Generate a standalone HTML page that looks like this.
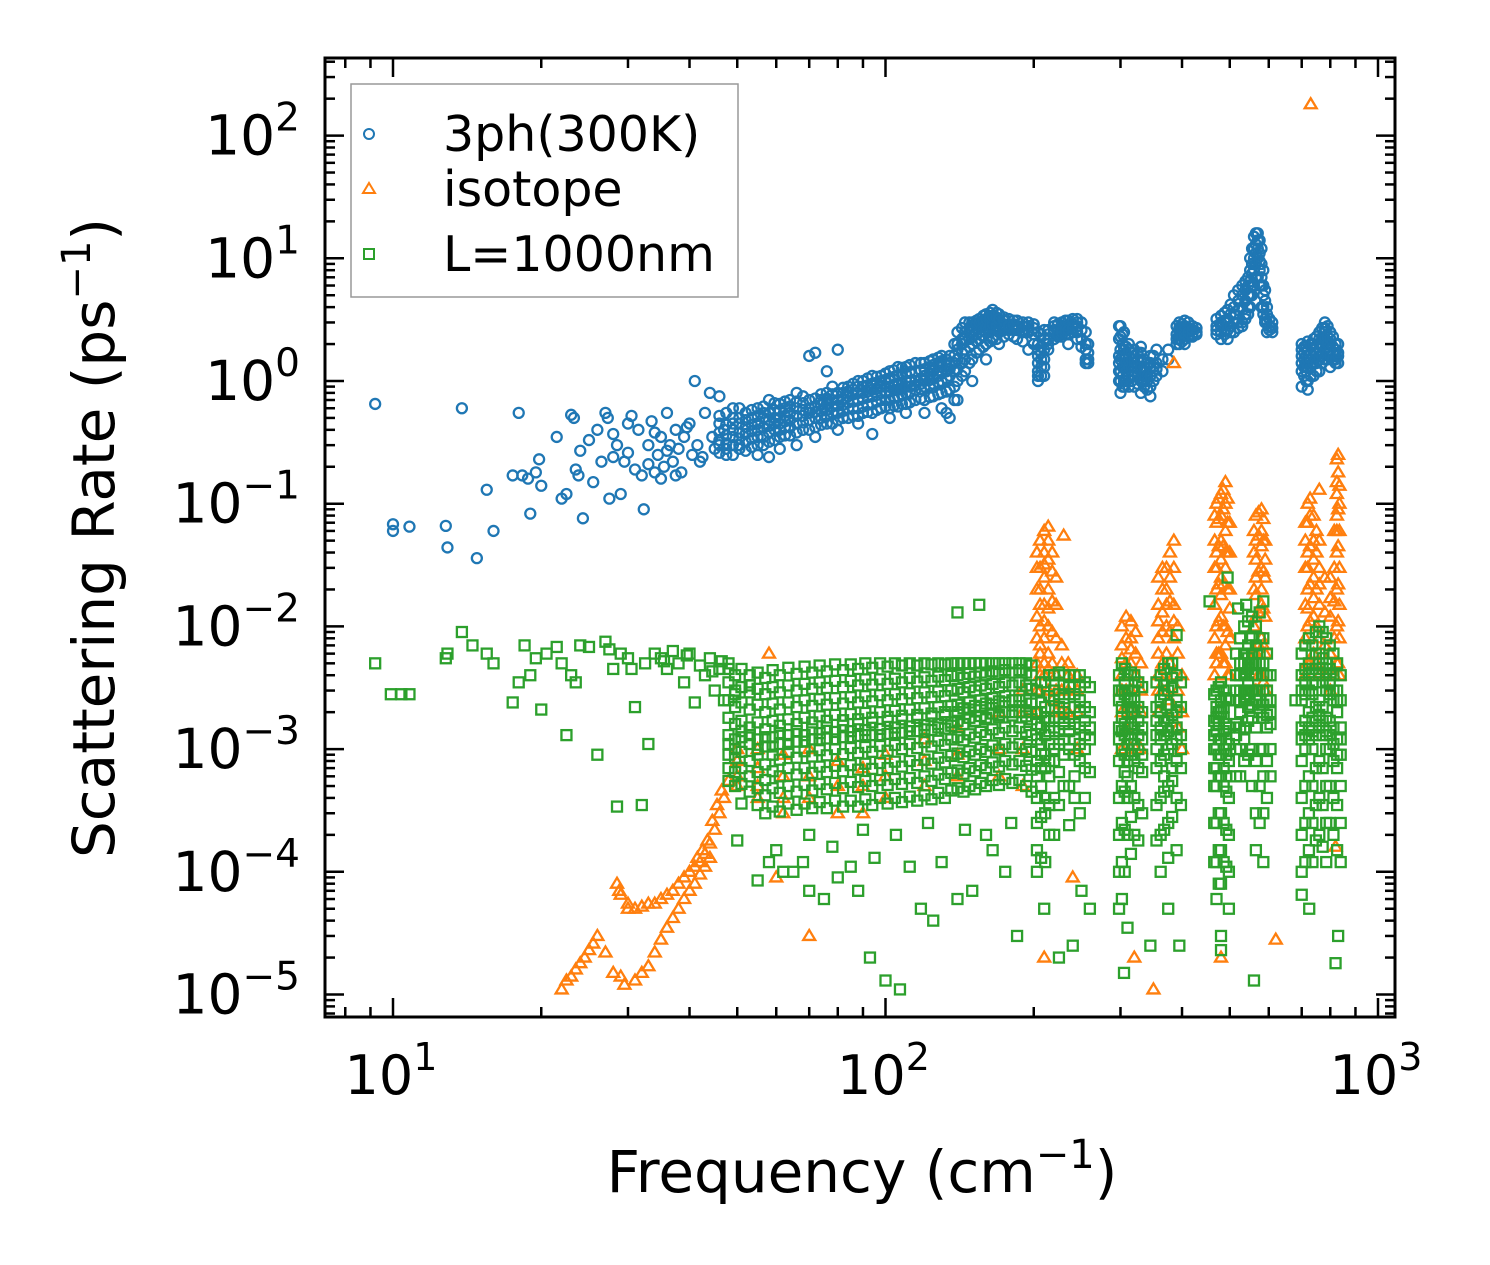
<!DOCTYPE html>
<html><head><meta charset="utf-8">
<style>
html,body{margin:0;padding:0;background:#fff;}
svg{display:block;font-family:"DejaVu Sans","Liberation Sans",sans-serif;}
</style></head>
<body>
<svg id="chart" width="1490" height="1265" viewBox="0 0 1490 1265" xmlns="http://www.w3.org/2000/svg">
<rect x="0" y="0" width="1490" height="1265" fill="#fff"/>
<g id="marks"></g>
<g id="axes"></g>
<text x="862" y="1192" text-anchor="middle" font-size="58">Frequency (cm<tspan dy="-24" font-size="40">−1</tspan><tspan dy="24">)</tspan></text>
<text transform="translate(114,538) rotate(-90)" text-anchor="middle" font-size="58">Scattering Rate (ps<tspan dy="-24" font-size="40">−1</tspan><tspan dy="24">)</tspan></text>
<g>
<rect x="351" y="84" width="387" height="213" fill="#fff" fill-opacity="0.85" stroke="#999" stroke-width="1.5"/>
<g>
<circle cx="369" cy="134" r="5" fill="none" stroke="#1f77b4" stroke-width="2"/>
<text x="443" y="151" font-size="49">3ph(300K)</text></g>
<g>
<polygon points="369,183 375,193 363,193" fill="none" stroke="#ff7f0e" stroke-width="2"/>
<text x="443" y="206" font-size="49">isotope</text></g>
<g>
<rect x="364" y="249" width="10" height="10" fill="none" stroke="#2ca02c" stroke-width="2"/>
<text x="443" y="271" font-size="49">L=1000nm</text></g>
</g>
</svg>
<script>
// ---- data (frequency cm^-1, scattering rate ps^-1) ----
const xTickValues = [10, 100, 1000];
const xTickExps = ["1", "2", "3"];
const yTickValues = [1e2, 1e1, 1e0, 1e-1, 1e-2, 1e-3, 1e-4, 1e-5];
const yTickExps = ["2", "1", "0", "\u22121", "\u22122", "\u22123", "\u22124", "\u22125"];
const seriesNames = ["3ph(300K)", "isotope", "L=1000nm"];

const blueSparse = [[9.2,0.65],[10,0.06],[10,0.068],[10.8,0.065],[12.8,0.066],[12.9,0.044],[13.8,0.6],[14.8,0.036],[15.5,0.13],[16,0.06],[17.5,0.17],[18,0.55],[18.3,0.17],[18.8,0.16],[19,0.083],[19.5,0.18],[19.8,0.23],[20,0.14],[21.5,0.35],[22,0.11],[22.5,0.12],[23,0.53],[23.3,0.5],[23.5,0.19],[23.8,0.17],[24,0.27],[24.3,0.076],[25,0.33],[25.5,0.15],[26,0.4],[26.5,0.22],[27,0.55],[27.3,0.5],[27.5,0.11],[28,0.37],[28.5,0.3],[29,0.12],[29.5,0.22],[30,0.45],[30.5,0.52],[31,0.19],[31.5,0.4],[32,0.17],[32.3,0.09],[33,0.3],[33.5,0.47],[34,0.18],[34.5,0.25],[35,0.35],[35.5,0.2],[36,0.55],[36.5,0.3],[37,0.22],[37.5,0.4],[38,0.28],[38.5,0.18],[39,0.35],[40,0.45],[40.5,0.25],[41,1.0],[41.5,0.3],[42,0.22],[43,0.55],[44,0.8],[44.5,0.35],[45,0.28],[46,0.75],[47,0.4],[35,0.16],[37.5,0.17],[42.5,0.24],[30,0.26],[28,0.24],[33,0.21],[39.5,0.42],[36,0.27],[34,0.38]];
const blueDense = [
[46,[0.3,0.38,0.45,0.26,0.33,0.52]],[47.5,[0.28,0.36,0.44,0.55,0.31,0.25]],[49,[0.3,0.4,0.5,0.25,0.35,0.45,0.6]],[50.5,[0.3,0.45,0.6,0.28,0.38,0.5,0.34]],[52,[0.32,0.42,0.55,0.27,0.37,0.48]],[53.5,[0.34,0.44,0.58,0.29,0.39,0.5]],[55,[0.35,0.45,0.6,0.3,0.25,0.4,0.52]],[56.5,[0.35,0.5,0.62,0.3,0.42,0.55]],[58,[0.38,0.48,0.7,0.32,0.24,0.55,0.43]],[59.5,[0.4,0.5,0.66,0.33,0.45,0.58]],[61,[0.4,0.5,0.65,0.35,0.28,0.45,0.57]],[62.5,[0.42,0.52,0.68,0.36,0.47,0.6]],[64,[0.42,0.55,0.7,0.36,0.48,0.62]],[66,[0.45,0.6,0.8,0.38,0.3,0.52,0.68]],[68,[0.46,0.58,0.75,0.4,0.52,0.66]],[70,[0.48,0.6,1.6,0.4,0.55,0.7]],[72,[0.5,0.62,1.7,0.42,0.35,0.56,0.72]],[74,[0.5,0.64,0.78,0.44,0.57,0.7]],[76,[0.52,0.65,0.8,0.45,1.2,0.58,0.72]],[78,[0.55,0.7,0.9,0.45,0.62,0.78]],[80,[0.55,0.7,1.8,0.48,0.4,0.63,0.8]],[82,[0.57,0.72,0.88,0.5,0.64,0.8]],[84,[0.6,0.75,0.9,0.5,0.67,0.82]],[86,[0.6,0.78,0.95,0.52,0.68,0.85]],[88,[0.6,0.8,1.0,0.52,0.45,0.7,0.9]],[90,[0.62,0.8,1.0,0.55,0.72,0.9]],[92,[0.64,0.82,1.05,0.56,0.74,0.92]],[94,[0.65,0.85,1.1,0.55,0.37,0.75,0.95]],[96,[0.68,0.87,1.08,0.58,0.77,0.97]],[98,[0.7,0.9,1.1,0.6,0.8,1.0]],[100,[0.7,0.9,1.15,0.62,0.8,1.02]],[102,[0.7,0.9,1.2,0.6,0.5,0.82,1.05]],[104,[0.73,0.93,1.22,0.63,0.84,1.08]],[106,[0.75,0.95,1.3,0.62,0.85,1.1]],[108,[0.77,0.97,1.28,0.65,0.87,1.12]],[110,[0.8,1.0,1.3,0.65,0.55,0.9,1.15]],[112,[0.8,1.0,1.35,0.67,0.9,1.18]],[115,[0.85,1.0,1.4,0.7,0.92,1.2]],[118,[0.86,1.05,1.4,0.72,0.95,1.22]],[120,[0.9,1.1,1.4,0.7,0.55,1.0,1.25]],[123,[0.92,1.15,1.45,0.74,1.02,1.3]],[125,[0.95,1.2,1.5,0.75,1.05,1.35]],[128,[0.97,1.22,1.55,0.78,1.1,1.4]],[130,[1.0,1.3,0.8,0.6,1.6,1.15,1.45]],[133,[1.05,1.35,0.82,0.55,1.2,1.5]],[135,[1.1,1.4,0.85,0.5,1.25,1.6]],[138,[1.2,1.6,2.0,0.9,0.7,1.4]],[140,[1.5,2.0,2.5,1.0,0.7,1.25,1.8]],[143,[1.7,2.2,2.7,1.1,1.4,2.0]],[145,[1.8,2.5,3.0,1.2,2.2,1.5]],[148,[1.9,2.5,3.0,1.4,2.2,2.7]],[150,[2.0,2.6,3.0,1.5,1.0,2.3,2.8]],[153,[2.1,2.7,3.1,1.7,2.4,2.9]],[155,[2.2,2.8,3.2,1.8,2.5,3.0]],[158,[2.3,2.9,3.4,1.9,2.6,3.1]],[160,[2.5,3.0,3.5,2.0,1.5,2.7,3.2]],[163,[2.5,3.1,3.6,2.1,2.8,3.3]],[165,[2.6,3.2,3.8,2.2,2.9,3.4]],[168,[2.6,3.1,3.6,2.2,2.8,3.3]],[170,[2.7,3.0,3.5,2.0,2.5,3.2]],[174,[2.6,2.9,3.3,2.3,2.7,3.1]],[178,[2.6,2.9,3.2,2.4,2.8]],[182,[2.6,2.8,3.1,2.3,2.9]],[185,[2.6,2.8,3.1,2.2,2.7]],[190,[2.5,2.8,3.0,2.1,2.6]],[195,[2.5,2.8,3.0,1.8,2.6]],[200,[2.4,2.7,2.9,2.0]],
[204,[1.2,1.6,2.0,2.5,1.0,1.4,1.8,1.1]],[207,[1.1,1.5,1.9,2.4,1.3,1.7]],[210,[1.3,1.8,2.6,1.1,1.5,2.2]],[214,[1.8,2.2,2.6,2.0,2.4]],[220,[2.2,2.6,3.0,2.5,2.8]],[224,[2.3,2.6,2.9,2.4]],[228,[2.3,2.7,3.0,2.5]],[232,[2.4,2.8,3.1,2.6]],[235,[2.4,2.8,3.1,2.0,2.6]],[240,[2.5,2.9,3.2,2.7]],[245,[2.5,3.0,3.2,2.2,2.8]],[250,[2.2,2.6,3.0,1.9]],[255,[1.5,2.0,2.5,1.4,1.8]],[258,[1.4,1.7,2.0,1.5]],
[298,[1.2,1.6,2.2,2.8,1.0,1.4]],[300,[1.2,1.8,2.8,1.0,0.8,1.5,2.3]],[303,[1.1,1.6,2.4,0.9,1.3,2.0]],[305,[1.0,1.5,2.5,0.9,1.3,1.8]],[308,[1.0,1.4,1.9,1.2,1.6]],[312,[1.1,1.6,2.0,1.3,0.9,1.8]],[316,[1.0,1.3,1.7,1.5,1.1]],[320,[0.9,1.4,1.8,1.1,1.2,1.6]],[325,[0.95,1.3,1.7,1.1,1.5]],[330,[1.0,1.5,1.9,1.2,0.8,1.3,1.7]],[335,[0.9,1.2,1.5,1.0,1.3]],[340,[0.85,1.1,1.4,1.0]],[345,[0.9,1.3,1.6,0.75,1.1,1.4]],[350,[1.0,1.3,1.6,1.2]],[355,[1.1,1.4,1.8,1.25]],[365,[1.2,1.5]],[375,[1.5,1.8]],
[390,[2.0,2.4,2.8,2.2]],[395,[2.0,2.5,3.0,2.2,2.7,2.35]],[400,[2.1,2.5,2.9,2.3,2.7]],[405,[2.2,2.6,3.1,2.0,2.4,2.8]],[412,[2.3,2.7,3.0,2.5]],[420,[2.4,2.8,2.3,2.6]],[428,[2.5,2.7,2.4]],
[470,[2.4,2.8,3.2,2.6]],[480,[2.5,3.0,3.4,2.8,2.2]],[488,[2.6,3.1,3.6,2.4]],[495,[2.6,3.2,3.8,2.2,3.0]],[502,[2.8,3.5,4.2,2.5]],[510,[3.0,4.0,5.0,2.5,3.5]],[520,[3.0,4.5,5.5,2.7,3.8]],[530,[3.0,5.0,6.0,2.8,4.0]],[538,[3.5,5.5,6.5,3.2,4.5]],[545,[4,6,7,3.5,5]],[550,[5,8,10,4,6.5]],[555,[6,9,12,5,7.5]],[560,[8,12,15,6,10]],[565,[9,13,16,7,11]],[570,[10,14,16,7,12]],[575,[8,11,14,6,9.5]],[580,[6,9,12,4,7]],[585,[4,6,8,3.5,5]],[590,[3,4.5,5.5,3.2]],[595,[3,4,2.5,3.5]],[602,[2.8,3.2,2.6]],[610,[2.5,3.0,2.7]],
[700,[1.2,1.6,2.0,0.9,1.4,1.8]],[708,[1.1,1.5,1.9,1.3,1.7]],[715,[1.2,1.6,1.0,1.4,1.9]],[720,[1.3,1.8,1.0,0.85,1.5,2.1]],[730,[1.3,1.7,2.0,1.1,1.5]],[740,[1.4,1.8,2.2,1.1,1.6,2.0]],[750,[1.4,1.9,2.3,1.2,1.7]],[760,[1.5,2.0,2.5,1.2,1.7,2.2]],[770,[1.6,2.2,2.7,1.4,1.9]],[780,[1.8,2.5,3.0,1.5,2.2,2.7]],[790,[1.7,2.3,2.8,1.5,2.0]],[800,[1.6,2.0,2.5,1.3,1.8,2.2]],[810,[1.5,1.9,2.3,1.7]],[820,[1.4,1.8,1.6,2.0,1.5]],[830,[1.4,1.7,2.0,1.6]]];

const orangeSparse = [[22,1.1e-5],[22.5,1.3e-5],[23,1.4e-5],[23.5,1.6e-5],[24,1.8e-5],[24.5,2e-5],[25,2.3e-5],[25.5,2.6e-5],[26,3e-5],[27,2.2e-5],[28,1.5e-5],[29,1.4e-5],[28.5,8e-5],[28.8,7e-5],[29,6.5e-5],[30,5.5e-5],[31,5e-5],[32,5.2e-5],[33,5.5e-5],[34,5.5e-5],[35,6e-5],[36,6.5e-5],[37,7e-5],[38,8e-5],[39,9e-5],[40,1e-4],[41,1.1e-4],[42,1.2e-4],[43,1.4e-4],[44,1.7e-4],[45,2.2e-4],[46,3e-4],[47,4e-4],[48,5.5e-4],[31,1.3e-5],[32,1.5e-5],[33,1.7e-5],[34,2.2e-5],[35,2.8e-5],[36,3.5e-5],[37,4.2e-5],[38,5e-5],[39,6e-5],[40,7e-5],[41,8e-5],[42,9.5e-5],[43,1.1e-4],[44,1.3e-4],[30,5e-5],[29.5,1.2e-5],[41.5,1.3e-4],[42.5,1.5e-4],[43.5,1.8e-4],[44.5,2.6e-4],[45.5,3.5e-4],[46.5,4.6e-4],[730,180],[385,1.4],[230,0.055],[760,0.13],[70,3e-5],[60,9e-5],[210,2e-5],[320,2e-5],[350,1.1e-5],[480,2e-5],[620,2.8e-5],[240,9e-5],[58,0.006],[820,1.6e-4]];
const orangeDense = [[50,[6e-4,8e-4,1e-3,5e-4]],[55,[5e-4,7e-4,1e-3,4e-4]],[62,[4e-4,6e-4,9e-4,3e-4]],[70,[4e-4,6e-4,1e-3]],[80,[3e-4,5e-4,8e-4]],[90,[3e-4,5e-4,7e-4]],[100,[4e-4,6e-4,9e-4]],[120,[5e-4,8e-4,1.2e-3]],[140,[6e-4,9e-4,1.5e-3]],[170,[6e-4,1e-3,2e-3]],[190,[5e-4,1e-3,2e-3,3e-3]],
[203,[2e-3,3e-3,5e-3,8e-3,1.2e-2,2e-2,3e-2,4e-2]],[206,[3e-3,6e-3,1e-2,2e-2,3e-2,5e-2,4e-3,1.5e-2,7e-3]],[210,[4e-3,8e-3,1.5e-2,2.5e-2,4e-2,6e-2,5e-3,1.1e-2,3.2e-2]],[214,[3e-3,6e-3,1e-2,2e-2,3.5e-2,5e-2,6.5e-2,4.5e-3,1.4e-2]],[218,[2.5e-3,5e-3,9e-3,1.6e-2,2.8e-2,4e-2]],[222,[2e-3,4e-3,8e-3,1.5e-2,2.5e-2,3e-3]],[228,[2e-3,3e-3,5e-3,7e-3]],[235,[2e-3,3e-3,4e-3,5e-3]],[245,[1e-3,2e-3,3e-3,4e-3]],
[302,[1e-3,2e-3,4e-3,7e-3,1e-2,3e-3,5.5e-3]],[308,[1.5e-3,3e-3,5e-3,8e-3,1.2e-2]],[315,[1e-3,3e-3,5e-3,8e-3,1.1e-2,2e-3,6.5e-3]],[322,[1e-3,2e-3,4e-3,6e-3,9e-3]],[330,[1e-3,2e-3,3e-3,5e-3]],
[358,[2e-3,4e-3,8e-3,1.5e-2,2.5e-2,3e-3,6e-3,1.1e-2]],[365,[3e-3,5e-3,9e-3,1.3e-2,2e-2,3e-2]],[372,[3e-3,6e-3,1e-2,2e-2,3e-2,1.5e-2,4.5e-3]],[378,[2.5e-3,5e-3,9e-3,1.6e-2,2.5e-2,4e-2]],[385,[2e-3,4e-3,8e-3,1.5e-2,3e-2,5e-2,1.1e-2]],[392,[1.5e-3,3e-3,6e-3,1e-2]],[400,[1e-3,2e-3,4e-3]],
[466,[4e-3,8e-3,1.5e-2,3e-2,5e-2,8e-2]],[470,[5e-3,1e-2,2e-2,4e-2,7e-2,1e-1,3e-2,6e-3]],[475,[6e-3,1.1e-2,2.2e-2,4.5e-2,7.5e-2,1.1e-1]],[480,[6e-3,1.2e-2,2.5e-2,5e-2,8e-2,1.2e-1,3.5e-2,1.8e-2]],[485,[5e-3,1e-2,2.2e-2,4.5e-2,9e-2,1.3e-1]],[490,[5e-3,1e-2,3e-2,6e-2,1e-1,1.5e-1,4e-2,7e-3]],[495,[4e-3,9e-3,2e-2,4e-2,7e-2,1.1e-1]],[500,[4e-3,8e-3,2e-2,4e-2,7e-2,1.4e-2]],
[560,[3e-3,6e-3,1e-2,2e-2,4e-2,6e-2]],[565,[3e-3,6e-3,1.2e-2,2.5e-2,5e-2,8e-2,1.8e-2,3.5e-2]],[572,[4e-3,7e-3,1.3e-2,2.8e-2,5.5e-2,8.5e-2]],[580,[4e-3,8e-3,1.5e-2,3e-2,6e-2,9e-2,2e-2,4.5e-2]],[585,[3.5e-3,7e-3,1.4e-2,2.8e-2,5e-2,7.5e-2]],[590,[3e-3,6e-3,1.2e-2,2.5e-2,5e-2,3.5e-2]],
[712,[4e-3,8e-3,1.5e-2,3e-2,5e-2,7e-2]],[720,[5e-3,1e-2,2e-2,4e-2,7e-2,1e-1,3e-2,1.4e-2]],[728,[5e-3,1.1e-2,2.2e-2,4.5e-2,8e-2,1.1e-1]],[740,[6e-3,1.2e-2,2.5e-2,5e-2,8e-2,3.5e-2,1.7e-2]],[750,[5e-3,1e-2,2e-2,4e-2,6e-2]],[760,[4e-3,8e-3,1.5e-2,3e-2,5e-2,2.2e-2]],[780,[4e-3,7e-3,1.3e-2,2.5e-2]],[800,[3e-3,6e-3,1.2e-2,2.5e-2,1.7e-2]],[815,[4e-3,8e-3,1.6e-2,3e-2,6e-2]],[825,[5e-3,1e-2,2e-2,4e-2,8e-2,1.5e-1,2.3e-1,1.2e-1,6e-2]],[830,[5e-3,1.1e-2,2.2e-2,4.5e-2,9e-2,1.8e-1,2.5e-1]],[835,[4e-3,8e-3,1.5e-2,3e-2,6e-2,1e-1,1.4e-1]]];

const greenSparse = [[9.2,0.005],[9.9,0.0028],[10.4,0.0028],[10.8,0.0028],[12.8,0.0055],[12.9,0.006],[13.8,0.009],[14.5,0.007],[15.5,0.006],[16,0.005],[17.5,0.0024],[18,0.0035],[18.5,0.007],[19,0.004],[19.5,0.0055],[20,0.0021],[20.5,0.006],[21.5,0.0068],[22,0.005],[22.5,0.0013],[23,0.004],[23.5,0.0035],[24,0.007],[25,0.0068],[26,0.0009],[27,0.0075],[27.5,0.0065],[28,0.0045],[28.5,0.00034],[29,0.006],[30,0.0055],[31,0.0022],[32,0.00035],[32.5,0.005],[33,0.0011],[34,0.006],[35,0.0055],[36,0.0045],[37,0.0063],[38,0.005],[39,0.0035],[40,0.006],[41,0.0024],[42,0.0048],[43,0.004],[44,0.0055],[45,0.003],[46,0.0045],[47,0.0025],[30.5,0.0045],[35.5,0.0052],[39.5,0.0058],[44.5,0.0043],[46.5,0.0052],[50,0.00018],[55,8.5e-5],[58,0.00012],[62,0.0001],[65,0.0001],[70,7e-5],[75,6e-5],[80,9e-5],[88,7e-5],[93,2e-5],[100,1.3e-5],[107,1.1e-5],[118,5e-5],[125,4e-5],[140,6e-5],[150,7e-5],[185,3e-5],[210,5e-5],[225,2e-5],[240,2.5e-5],[250,7e-5],[260,5e-5],[305,1.5e-5],[310,3.5e-5],[345,2.5e-5],[375,5e-5],[395,2.5e-5],[480,2.3e-5],[560,1.3e-5],[680,0.0025],[700,6.5e-5],[725,5e-5],[820,1.8e-5],[830,3e-5],[140,0.013],[155,0.015],[390,0.0085],[520,0.014],[540,0.015],[585,0.016],[455,0.016],[495,0.025],[60,0.00015],[68,0.00012],[78,0.00016],[85,0.00011],[95,0.00013],[112,0.00011],[130,0.00012],[165,0.00015],[175,0.0001],[70,0.0002],[90,0.00022],[105,0.0002],[122,0.00025],[145,0.00022],[160,0.0002],[180,0.00025]];
const greenDense = [
[48,[5e-3,3.5e-3,2.5e-3,1.8e-3,1.3e-3,9e-4,7e-4,5.5e-4,4.5e-3,1.1e-3]],[49.5,[4e-3,3e-3,2.2e-3,1.6e-3,1.2e-3,8.5e-4,6.5e-4,5e-4,2.8e-3,1e-3]],[51,[4.5e-3,3.2e-3,2.4e-3,1.7e-3,1.25e-3,9.5e-4,7e-4,5.2e-4,3.6e-4,1.4e-3]],[53,[4e-3,2.9e-3,2.1e-3,1.5e-3,1.1e-3,8e-4,6e-4,4.5e-4,3.3e-3,1.3e-3]],[55,[4.2e-3,3.1e-3,2.3e-3,1.65e-3,1.2e-3,9e-4,6.5e-4,4.8e-4,3.5e-4,1e-3]],[57,[3.8e-3,2.8e-3,2e-3,1.45e-3,1.05e-3,7.5e-4,5.6e-4,4.2e-4,3e-4,1.25e-3]],[59,[4.4e-3,3.2e-3,2.35e-3,1.7e-3,1.25e-3,9e-4,6.6e-4,4.8e-4,3.4e-4,1.05e-3]],[61,[4e-3,2.9e-3,2.1e-3,1.55e-3,1.1e-3,8.2e-4,6e-4,4.4e-4,3.1e-4,1.35e-3]],[63.5,[4.6e-3,3.3e-3,2.4e-3,1.75e-3,1.3e-3,9.5e-4,7e-4,5e-4,3.6e-4,1.1e-3]],[66,[4.1e-3,3e-3,2.2e-3,1.6e-3,1.15e-3,8.5e-4,6.2e-4,4.5e-4,3.2e-4,1.4e-3]],[68.5,[4.7e-3,3.4e-3,2.5e-3,1.8e-3,1.3e-3,9.6e-4,7e-4,5.1e-4,3.6e-4,1.15e-3]],[71,[4.2e-3,3.1e-3,2.25e-3,1.65e-3,1.2e-3,8.7e-4,6.4e-4,4.6e-4,3.3e-4,1.45e-3]],[73.5,[4.8e-3,3.5e-3,2.55e-3,1.85e-3,1.35e-3,9.8e-4,7.2e-4,5.2e-4,3.7e-4,1.2e-3]],[76,[4.3e-3,3.15e-3,2.3e-3,1.7e-3,1.22e-3,8.9e-4,6.5e-4,4.7e-4,3.3e-4,1.5e-3]],[79,[4.9e-3,3.6e-3,2.6e-3,1.9e-3,1.38e-3,1e-3,7.3e-4,5.3e-4,3.8e-4,1.2e-3]],[82,[4.4e-3,3.2e-3,2.35e-3,1.72e-3,1.25e-3,9.1e-4,6.6e-4,4.8e-4,3.4e-4,1.55e-3]],[85,[4.9e-3,3.6e-3,2.65e-3,1.93e-3,1.4e-3,1.02e-3,7.4e-4,5.4e-4,3.8e-4,1.25e-3]],[88,[4.5e-3,3.3e-3,2.4e-3,1.75e-3,1.28e-3,9.3e-4,6.8e-4,4.9e-4,3.4e-4,1.6e-3]],[91,[5e-3,3.7e-3,2.7e-3,1.97e-3,1.43e-3,1.04e-3,7.6e-4,5.5e-4,3.9e-4,1.3e-3]],[94,[4.6e-3,3.35e-3,2.45e-3,1.8e-3,1.3e-3,9.5e-4,6.9e-4,5e-4,3.5e-4,1.65e-3]],[97.5,[5e-3,3.7e-3,2.75e-3,2e-3,1.46e-3,1.06e-3,7.7e-4,5.6e-4,4e-4,1.3e-3]],[101,[4.7e-3,3.4e-3,2.5e-3,1.83e-3,1.33e-3,9.7e-4,7e-4,5.1e-4,3.6e-4,1.7e-3]],[104.5,[5e-3,3.75e-3,2.8e-3,2.05e-3,1.5e-3,1.08e-3,7.9e-4,5.7e-4,4e-4,1.35e-3]],[108,[4.8e-3,3.5e-3,2.55e-3,1.87e-3,1.36e-3,1e-3,7.2e-4,5.2e-4,3.7e-4,1.75e-3]],[112,[5e-3,3.8e-3,2.85e-3,2.1e-3,1.53e-3,1.1e-3,8e-4,5.8e-4,4.1e-4,1.4e-3]],[116,[4.8e-3,3.55e-3,2.6e-3,1.9e-3,1.4e-3,1.02e-3,7.4e-4,5.3e-4,3.8e-4,1.8e-3]],[120,[5e-3,3.85e-3,2.9e-3,2.15e-3,1.57e-3,1.14e-3,8.2e-4,6e-4,4.2e-4,1.45e-3]],[124,[4.9e-3,3.6e-3,2.65e-3,1.95e-3,1.43e-3,1.05e-3,7.6e-4,5.5e-4,3.9e-4,1.85e-3]],[128,[5e-3,3.9e-3,2.95e-3,2.2e-3,1.6e-3,1.17e-3,8.5e-4,6.2e-4,4.4e-4,1.5e-3]],[132,[4.9e-3,3.65e-3,2.7e-3,2e-3,1.47e-3,1.08e-3,7.8e-4,5.7e-4,4e-4,1.9e-3]],[136,[5e-3,3.95e-3,3e-3,2.25e-3,1.65e-3,1.2e-3,8.8e-4,6.4e-4,4.6e-4,1.55e-3]],[140,[5e-3,4e-3,3.1e-3,2.3e-3,1.7e-3,1.25e-3,9.2e-4,6.7e-4,4.8e-4,2e-3]],[144,[5e-3,3.8e-3,2.9e-3,2.15e-3,1.6e-3,1.18e-3,8.6e-4,6.3e-4,4.5e-4,1.6e-3]],[148,[5e-3,4.1e-3,3.2e-3,2.4e-3,1.8e-3,1.32e-3,9.6e-4,7e-4,5e-4,2.1e-3]],[152,[5e-3,3.9e-3,3e-3,2.25e-3,1.68e-3,1.24e-3,9e-4,6.6e-4,4.7e-4,1.7e-3]],[156,[5e-3,4.2e-3,3.3e-3,2.5e-3,1.86e-3,1.38e-3,1e-3,7.4e-4,5.3e-4,2.2e-3]],[160,[5e-3,4e-3,3.1e-3,2.35e-3,1.75e-3,1.3e-3,9.5e-4,7e-4,5e-4,1.8e-3]],[165,[5e-3,4.3e-3,3.4e-3,2.6e-3,1.95e-3,1.45e-3,1.07e-3,7.8e-4,5.6e-4,2.3e-3]],[170,[5e-3,4.1e-3,3.2e-3,2.45e-3,1.82e-3,1.35e-3,9.9e-4,7.2e-4,5.1e-4,1.9e-3]],[175,[5e-3,4.4e-3,3.5e-3,2.7e-3,2e-3,1.5e-3,1.1e-3,8e-4,5.7e-4,2.4e-3]],[181,[5e-3,4.2e-3,3.3e-3,2.5e-3,1.88e-3,1.4e-3,1.03e-3,7.5e-4,5.3e-4,2e-3]],[187,[5e-3,4.4e-3,3.5e-3,2.7e-3,2e-3,1.5e-3,1.1e-3,8e-4,5.6e-4,2.5e-3]],[193,[5e-3,4.2e-3,3.3e-3,2.5e-3,1.85e-3,1.38e-3,1e-3,7.3e-4,5e-4,2e-3]],[198,[4.8e-3,4e-3,3.1e-3,2.35e-3,1.75e-3,1.3e-3,9.5e-4,6.8e-4,4.5e-4]],
[203,[3e-3,2e-3,1.2e-3,6e-4,2.5e-4,1e-4,1.5e-4,8e-4,4e-4,1.6e-3]],[207,[3.5e-3,2.4e-3,1.5e-3,9e-4,5e-4,2.8e-4,1.3e-4,2e-3,7e-4,1.1e-3]],[211,[3.5e-3,2.2e-3,1.3e-3,7e-4,3e-4,1.2e-4,4e-4,1.8e-3,9e-4]],[215,[4e-3,2.7e-3,1.7e-3,1.1e-3,6e-4,3.5e-4,2e-4,1.4e-3,8e-4]],[220,[4e-3,2.5e-3,1.5e-3,8e-4,4e-4,2e-4,1e-3,3e-3,1.8e-3]],[225,[4.2e-3,2.8e-3,1.8e-3,1.1e-3,6.5e-4,3.5e-4,1.4e-3,2.2e-3]],[230,[4e-3,2.6e-3,1.6e-3,9e-4,5e-4,2e-3,1.2e-3,3.3e-3]],[236,[4e-3,2.8e-3,1.8e-3,1e-3,5e-4,2.4e-4,1.4e-3,3.2e-3]],[242,[4e-3,2.8e-3,1.6e-3,9e-4,4e-4,1.2e-3,2.2e-3,6e-4]],[248,[4e-3,2.5e-3,1.5e-3,8e-4,3e-4,2e-3,1.1e-3,3.2e-3]],[254,[3.5e-3,2.2e-3,1.3e-3,7e-4,4e-4,1.7e-3,1e-3]],[260,[3.2e-3,2e-3,1.2e-3,6.5e-4,1.5e-3]],
[298,[4e-3,2.5e-3,1.5e-3,8e-4,4e-4,2e-4,1e-4,5e-5,1.2e-3,3e-3]],[302,[5e-3,3e-3,1.8e-3,1e-3,5e-4,2.5e-4,1.2e-4,6e-5,1.4e-3,2.2e-3]],[306,[4.5e-3,2.8e-3,1.6e-3,9e-4,4.5e-4,2.2e-4,1e-4,1.3e-3,3.5e-3,6.5e-4]],[310,[4e-3,2.5e-3,1.5e-3,8e-4,4e-4,2e-4,2e-3,1.1e-3,3e-3,6e-4]],[315,[4.2e-3,2.6e-3,1.6e-3,9e-4,5e-4,2.8e-4,1.4e-4,1.2e-3,2.2e-3]],[320,[4e-3,2.5e-3,1.5e-3,8e-4,4e-4,2e-4,2e-3,1.1e-3,3e-3]],[326,[3.5e-3,2.2e-3,1.3e-3,7e-4,3.5e-4,1.8e-4,1e-3,1.7e-3]],[332,[3.2e-3,2e-3,1.2e-3,6.5e-4,3e-4,1.5e-3,9e-4]],
[355,[3.5e-3,2.2e-3,1.3e-3,7e-4,3.5e-4,1.8e-4,1e-3,1.7e-3]],[362,[4e-3,2.5e-3,1.5e-3,8e-4,4e-4,2e-4,1e-4,1.2e-3,2e-3]],[368,[4.5e-3,2.8e-3,1.7e-3,9e-4,4.5e-4,2.2e-4,6e-4,1.3e-3,3.3e-3]],[375,[5e-3,3e-3,1.8e-3,1e-3,5e-4,2.5e-4,1.3e-4,1.4e-3,2.3e-3]],[382,[5e-3,3.2e-3,1.9e-3,1.1e-3,5.5e-4,2.8e-4,1.5e-3,3.8e-3,7e-4]],[390,[4e-3,2.5e-3,1.5e-3,8e-4,4e-4,1.5e-4,1.2e-3,2e-3]],[398,[3.5e-3,2.2e-3,1.3e-3,7e-4,3.5e-4,1e-3]],
[465,[2.8e-3,1.7e-3,1e-3,5e-4,2.5e-4,1.2e-4,7e-4,1.3e-3]],[470,[3e-3,1.8e-3,1e-3,5e-4,2.5e-4,1.2e-4,6e-5,1.4e-3,2.2e-3,7e-4]],[475,[3.2e-3,2e-3,1.2e-3,6e-4,3e-4,1.5e-4,8e-5,1.6e-3,9e-4]],[480,[3.5e-3,2e-3,1.2e-3,6e-4,3e-4,1.5e-4,8e-5,3e-5,2.5e-3,9e-4]],[486,[3e-3,1.8e-3,1e-3,5e-4,2.5e-4,1.2e-4,7e-4,1.4e-3,2.2e-3]],[492,[2.6e-3,1.6e-3,9e-4,4.5e-4,2.2e-4,1.1e-4,6e-4,1.2e-3]],[498,[2.5e-3,1.5e-3,8e-4,4e-4,2e-4,1e-4,5e-5,1.1e-3]],
[515,[6e-3,4e-3,2.5e-3,1.6e-3,1e-3,6e-4,3e-3,1.3e-3]],[525,[8e-3,5e-3,3e-3,2e-3,1e-3,6e-4,4e-3,1.5e-3,2.5e-3]],[535,[1e-2,6e-3,4e-3,2.5e-3,1.5e-3,8e-4,3e-3,5e-3,1.2e-3]],[545,[1.1e-2,7e-3,4.5e-3,2.8e-3,1.7e-3,9e-4,5.5e-3,3.5e-3,2.2e-3]],[555,[1.2e-2,8e-3,5e-3,3e-3,1.8e-3,1e-3,5e-4,6e-3,2.3e-3,4e-3]],[565,[1e-2,7e-3,4e-3,2.5e-3,1.5e-3,8e-4,3e-4,1.5e-4,5e-3,3e-3]],[575,[1.3e-2,8e-3,5e-3,3e-3,2e-3,1e-3,5e-4,2.5e-4,6e-3,2.5e-3]],[585,[8e-3,5e-3,3e-3,1.8e-3,1e-3,6e-4,3e-4,1.2e-4,4e-3,2.3e-3]],[595,[6e-3,4e-3,2.5e-3,1.5e-3,8e-4,4e-4,3e-3,1.9e-3]],[605,[4e-3,2.5e-3,1.6e-3,1e-3,6e-4,2e-3]],
[700,[6e-3,4e-3,2.5e-3,1.5e-3,8e-4,4e-4,2e-4,1e-4,3e-3,1.2e-3]],[712,[7e-3,4.5e-3,2.8e-3,1.7e-3,1e-3,5e-4,2.5e-4,1.2e-4,3.5e-3,1.3e-3]],[724,[8e-3,5e-3,3e-3,2e-3,1.2e-3,6e-4,3e-4,1.5e-4,4e-3,1.5e-3]],[736,[7e-3,4.5e-3,2.8e-3,1.8e-3,1e-3,5e-4,2.5e-4,1.2e-4,3.5e-3,1.4e-3]],[748,[9e-3,6e-3,3.5e-3,2.2e-3,1.3e-3,7e-4,3.5e-4,1.8e-4,4.5e-3,1.7e-3]],[760,[1e-2,6e-3,4e-3,2.5e-3,1.5e-3,8e-4,4e-4,2e-4,5e-3,1.9e-3]],[772,[9e-3,5.5e-3,3.5e-3,2.2e-3,1.3e-3,7e-4,3.5e-4,1.6e-4,4.5e-3,1.7e-3]],[785,[8e-3,5e-3,3e-3,1.8e-3,1e-3,5e-4,2.5e-4,1.2e-4,4e-3,1.4e-3]],[798,[7e-3,4.5e-3,2.8e-3,1.7e-3,1e-3,5e-4,2.5e-4,3.5e-3,1.3e-3]],[812,[6e-3,4e-3,2.5e-3,1.5e-3,8e-4,4e-4,2e-4,3e-3,1.1e-3]],[826,[5e-3,3e-3,2e-3,1.2e-3,7e-4,3.5e-4,1.5e-4,2.5e-3,9e-4]],[840,[4e-3,2.5e-3,1.5e-3,9e-4,5e-4,2.5e-4,1.2e-4,1.2e-3]]];

// ---- scales ----
const PL = 325, PR = 1395, PT = 58, PB = 1017;
const DEC_X = 492.5, DEC_Y = 122.7;
function xs(f){ return 393 + (Math.log10(f) - 1) * DEC_X; }
function ys(r){ return 381 - Math.log10(r) * DEC_Y; }

const NS = "http://www.w3.org/2000/svg";
const BLUE = "#1f77b4", ORANGE = "#ff7f0e", GREEN = "#2ca02c";
function mk(tag, attrs, parent){
  const e = document.createElementNS(NS, tag);
  for (const k in attrs) e.setAttribute(k, attrs[k]);
  parent.appendChild(e);
  return e;
}
function flatten(sparse, dense){
  const out = sparse.slice();
  dense.forEach(function(c){ c[1].forEach(function(v){ out.push([c[0], v]); }); });
  return out;
}
const marks = document.getElementById("marks");
function circle(g, x, y){
  const e = mk("circle", {cx:x, cy:y, r:5, fill:"none", stroke:BLUE, "stroke-width":2.3}, g);
  
  
}
function tri(g, x, y){
  const e = mk("polygon", {points:(x)+","+(y-6)+" "+(x+6)+","+(y+4)+" "+(x-6)+","+(y+4), fill:"none", stroke:ORANGE, "stroke-width":2.3}, g);
  
  
}
function sq(g, x, y){
  const e = mk("rect", {x:x-5, y:y-5, width:10, height:10, fill:"none", stroke:GREEN, "stroke-width":2.3}, g);
  
  
}
const gB = mk("g", {}, marks);


flatten(blueSparse, blueDense).forEach(function(p){ circle(gB, xs(p[0]), ys(p[1])); });
const gO = mk("g", {}, marks);


flatten(orangeSparse, orangeDense).forEach(function(p){ tri(gO, xs(p[0]), ys(p[1])); });
const gG = mk("g", {}, marks);


flatten(greenSparse, greenDense).forEach(function(p){ sq(gG, xs(p[0]), ys(p[1])); });

// ---- axes ----
const axes = document.getElementById("axes");
const frame = mk("rect", {x:PL, y:PT, width:PR-PL, height:PB-PT, fill:"none", stroke:"#000", "stroke-width":3}, axes);


function tickLine(x1,y1,x2,y2){ mk("line", {x1:x1,y1:y1,x2:x2,y2:y2,stroke:"#000","stroke-width":2.5}, axes); }
for (let d = 0; d <= 3; d++){
  for (let m = 1; m <= 9; m++){
    const v = m * Math.pow(10, d);
    const x = xs(v);
    if (x < PL + 1 || x > PR - 1) continue;
    const L = m === 1 ? 19 : 10;
    tickLine(x, PB, x, PB - L);
    tickLine(x, PT, x, PT + L);
  }
}
for (let d = -6; d <= 2; d++){
  for (let m = 1; m <= 9; m++){
    const v = m * Math.pow(10, d);
    const y = ys(v);
    if (y < PT + 1 || y > PB - 1) continue;
    const L = m === 1 ? 19 : 10;
    tickLine(PL, y, PL + L, y);
    tickLine(PR, y, PR - L, y);
  }
}
xTickValues.forEach(function(v, i){
  const t = mk("text", {x:xs(v) - 2, y:1094, "text-anchor":"middle", "font-size":54, fill:"#000"}, axes);
  
  
  t.appendChild(document.createTextNode("10"));
  const s = mk("tspan", {dy:-24, "font-size":38}, t);
  s.textContent = xTickExps[i];
});
yTickValues.forEach(function(v, i){
  const t = mk("text", {x:300, y:ys(v) + 19, "text-anchor":"end", "font-size":55, fill:"#000"}, axes);
  
  
  t.appendChild(document.createTextNode("10"));
  const s = mk("tspan", {dy:-24, "font-size":39}, t);
  s.textContent = yTickExps[i];
});
</script>
</body></html>
